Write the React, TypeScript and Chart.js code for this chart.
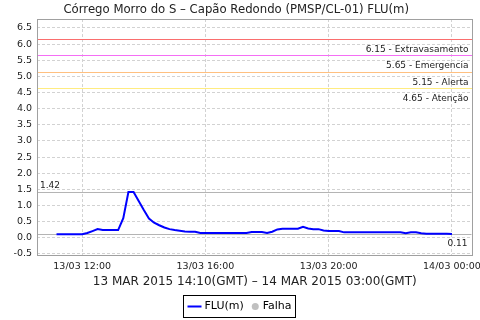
import React, { useEffect, useRef } from "react";
import { Chart, registerables } from "chart.js";

Chart.register(...registerables);

// ---- data ----
const titleText = "Córrego Morro do S – Capão Redondo (PMSP/CL-01) FLU(m)";
const xAxisTitle = "13 MAR 2015 14:10(GMT) – 14 MAR 2015 03:00(GMT)";

const timeLabels = [
  "11:10", "11:20", "11:30", "11:40", "11:50", "12:00", "12:10", "12:20", "12:30", "12:40",
  "12:50", "13:00", "13:10", "13:20", "13:30", "13:40", "13:50", "14:00", "14:10", "14:20",
  "14:30", "14:40", "14:50", "15:00", "15:10", "15:20", "15:30", "15:40", "15:50", "16:00",
  "16:10", "16:20", "16:30", "16:40", "16:50", "17:00", "17:10", "17:20", "17:30", "17:40",
  "17:50", "18:00", "18:10", "18:20", "18:30", "18:40", "18:50", "19:00", "19:10", "19:20",
  "19:30", "19:40", "19:50", "20:00", "20:10", "20:20", "20:30", "20:40", "20:50", "21:00",
  "21:10", "21:20", "21:30", "21:40", "21:50", "22:00", "22:10", "22:20", "22:30", "22:40",
  "22:50", "23:00", "23:10", "23:20", "23:30", "23:40", "23:50", "24:00",
];

const fluValues = [
  0.11, 0.11, 0.11, 0.11, 0.11, 0.11, 0.15, 0.21, 0.27, 0.24,
  0.24, 0.24, 0.24, 0.61, 1.42, 1.42, 1.14, 0.86, 0.60, 0.47,
  0.39, 0.32, 0.27, 0.24, 0.22, 0.20, 0.19, 0.19, 0.15, 0.15,
  0.15, 0.15, 0.15, 0.15, 0.15, 0.15, 0.15, 0.15, 0.18, 0.18,
  0.18, 0.15, 0.19, 0.26, 0.28, 0.28, 0.28, 0.28, 0.34, 0.29,
  0.27, 0.27, 0.23, 0.21, 0.21, 0.21, 0.17, 0.17, 0.17, 0.17,
  0.17, 0.17, 0.17, 0.17, 0.17, 0.17, 0.17, 0.17, 0.14, 0.17,
  0.17, 0.14, 0.13, 0.13, 0.13, 0.13, 0.13, 0.12,
];

const thresholdValues = [6.15, 5.65, 5.15, 4.65];
const thresholdNames = ["Extravasamento", "Emergencia", "Alerta", "Atenção"];
const thresholdColors = ["rgb(250,110,110)", "rgb(245,110,245)", "#ffc080", "#ffec80"];

const maxLevel = 1.42;
const lastLevel = 0.11;

const yTickValues = [-0.5, 0, 0.5, 1, 1.5, 2, 2.5, 3, 3.5, 4, 4.5, 5, 5.5, 6, 6.5];
const xTickTimes = ["12:00", "16:00", "20:00", "24:00"];
const xTickLabels = ["13/03 12:00", "13/03 16:00", "13/03 20:00", "14/03 00:00"];
const xRange = ["10:32", "24:40"];
const yRange = [-0.562, 6.776];

const seriesLabels = ["FLU(m)", "Falha"];
const seriesColors = ["#0000ff", "#c0c0c0"];

// ---- helpers ----
const toMin = (s: string) => {
  const [h, m] = s.split(":").map(Number);
  return h * 60 + m;
};

const FONT = "DejaVu Sans";

const refLinesPlugin = {
  id: "refLines",
  beforeDatasetsDraw(chart: any) {
    const { ctx, chartArea } = chart;
    const y = chart.scales.y;
    const { left, right, top, bottom } = chartArea;
    ctx.save();
    // plot border
    ctx.strokeStyle = "#a0a0a0";
    ctx.lineWidth = 1;
    ctx.setLineDash([]);
    ctx.strokeRect(Math.round(left) + 0.5, Math.round(top) + 0.5, Math.round(right - left) - 1, Math.round(bottom - top) - 1);

    ctx.font = `9px "${FONT}"`;
    thresholdValues.forEach((v, i) => {
      const py = Math.round(y.getPixelForValue(v));
      ctx.fillStyle = thresholdColors[i];
      ctx.fillRect(Math.round(left) + 1, py, Math.round(right - left) - 2, 1);
      ctx.fillStyle = "#222";
      ctx.textAlign = "right";
      ctx.textBaseline = "alphabetic";
      ctx.fillText(`${v.toFixed(2)} - ${thresholdNames[i]}`, right - 4, py + 13);
    });

    // max & last markers
    ctx.strokeStyle = "#b4b4b4";
    ctx.fillStyle = "#222";
    const pyMax = Math.round(y.getPixelForValue(maxLevel)) + 0.5;
    ctx.beginPath();
    ctx.moveTo(left + 1, pyMax);
    ctx.lineTo(right - 1, pyMax);
    ctx.stroke();
    ctx.textAlign = "left";
    ctx.fillText(maxLevel.toFixed(2), left + 3, pyMax - 5);

    const pyLast = Math.round(y.getPixelForValue(lastLevel)) + 0.5;
    ctx.beginPath();
    ctx.moveTo(left + 1, pyLast);
    ctx.lineTo(right - 1, pyLast);
    ctx.stroke();
    ctx.textAlign = "right";
    ctx.fillText(lastLevel.toFixed(2), right - 5, pyLast + 11.5);
    ctx.restore();
  },
};

const legendPlugin = {
  id: "boxLegend",
  afterDraw(chart: any) {
    const { ctx, width } = chart;
    ctx.save();
    ctx.font = `11px "${FONT}"`;
    const w0 = ctx.measureText(seriesLabels[0]).width;
    const w1 = ctx.measureText(seriesLabels[1]).width;
    const pad = 4;
    const lineW = 14;
    const total = pad + lineW + 3 + w0 + 8 + 7 + 4 + w1 + pad;
    const bx = Math.round(width / 2 - total / 2) - 0.5;
    const by = 295.5;
    const bh = 22;
    ctx.fillStyle = "#fff";
    ctx.fillRect(bx, by, total, bh);
    ctx.strokeStyle = "#000";
    ctx.lineWidth = 1;
    ctx.strokeRect(bx, by, Math.round(total), bh);
    const cy = by + bh / 2;
    let x = bx + pad;
    ctx.strokeStyle = seriesColors[0];
    ctx.lineWidth = 2;
    ctx.beginPath();
    ctx.moveTo(x, cy);
    ctx.lineTo(x + lineW, cy);
    ctx.stroke();
    x += lineW + 3;
    ctx.fillStyle = "#000";
    ctx.textAlign = "left";
    ctx.textBaseline = "middle";
    ctx.fillText(seriesLabels[0], x, cy);
    x += w0 + 8;
    ctx.fillStyle = seriesColors[1];
    ctx.beginPath();
    ctx.arc(x + 3.5, cy, 3.5, 0, Math.PI * 2);
    ctx.fill();
    x += 7 + 4;
    ctx.fillStyle = "#000";
    ctx.fillText(seriesLabels[1], x, cy);
    ctx.restore();
  },
};

export default function App() {
  const ref = useRef<HTMLCanvasElement | null>(null);
  useEffect(() => {
    document.body.style.margin = "0";
    if (!ref.current) return;
    Chart.defaults.font.family = FONT;
    const chart = new Chart(ref.current, {
      type: "line",
      data: {
        datasets: [
          {
            label: seriesLabels[0],
            data: timeLabels.map((t, i) => ({ x: toMin(t), y: fluValues[i] })),
            borderColor: seriesColors[0],
            backgroundColor: seriesColors[0],
            borderWidth: 2,
            pointRadius: 0,
            tension: 0,
          },
          {
            label: seriesLabels[1],
            data: [],
            borderColor: seriesColors[1],
            backgroundColor: seriesColors[1],
            pointRadius: 3,
          },
        ],
      },
      options: {
        responsive: false,
        animation: false,
        devicePixelRatio: 1,
        layout: { padding: { left: 0, right: 7.5, top: 0, bottom: 30 } },
        plugins: {
          legend: { display: false },
          tooltip: { enabled: false },
          title: {
            display: true,
            text: titleText,
            color: "#222",
            font: { family: FONT, size: 11.7, weight: "normal" },
            padding: { top: 3, bottom: 2 },
          },
        },
        scales: {
          x: {
            type: "linear",
            min: toMin(xRange[0]),
            max: toMin(xRange[1]),
            afterBuildTicks: (s: any) => {
              s.ticks = xTickTimes.map((t) => ({ value: toMin(t) }));
            },
            afterFit: (s: any) => {
              s.height = 34;
              s.paddingLeft = 0;
              s.paddingRight = 0;
            },
            ticks: {
              autoSkip: false,
              maxRotation: 0,
              padding: 5,
              color: "#222",
              font: { family: FONT, size: 9.5 },
              callback: (v: any) => {
                const i = xTickTimes.findIndex((t) => toMin(t) === v);
                return i >= 0 ? xTickLabels[i] : "";
              },
            },
            grid: { color: "#d2d2d2", drawTicks: false, lineWidth: 1 },
            border: { display: false, dash: [3, 2] },
            title: {
              display: true,
              text: xAxisTitle,
              color: "#222",
              font: { family: FONT, size: 12 },
              padding: { top: 0, bottom: 1 },
            },
          },
          y: {
            type: "linear",
            min: yRange[0],
            max: yRange[1],
            afterBuildTicks: (s: any) => {
              s.ticks = yTickValues.map((v) => ({ value: v }));
            },
            afterFit: (s: any) => {
              s.width = 37;
              s.paddingTop = 0;
              s.paddingBottom = 0;
            },
            ticks: {
              padding: 5,
              color: "#222",
              font: { family: FONT, size: 9.5 },
              callback: (v: any) => Number(v).toFixed(1),
            },
            grid: { color: "#d2d2d2", drawTicks: false, lineWidth: 1 },
            border: { display: false, dash: [3, 2] },
          },
        },
      } as any,
      plugins: [refLinesPlugin, legendPlugin],
    });
    return () => chart.destroy();
  }, []);
  return (
    <div style={{ width: 480, height: 320, background: "#fff" }}>
      <canvas ref={ref} width={480} height={320} style={{ display: "block" }} />
    </div>
  );
}
